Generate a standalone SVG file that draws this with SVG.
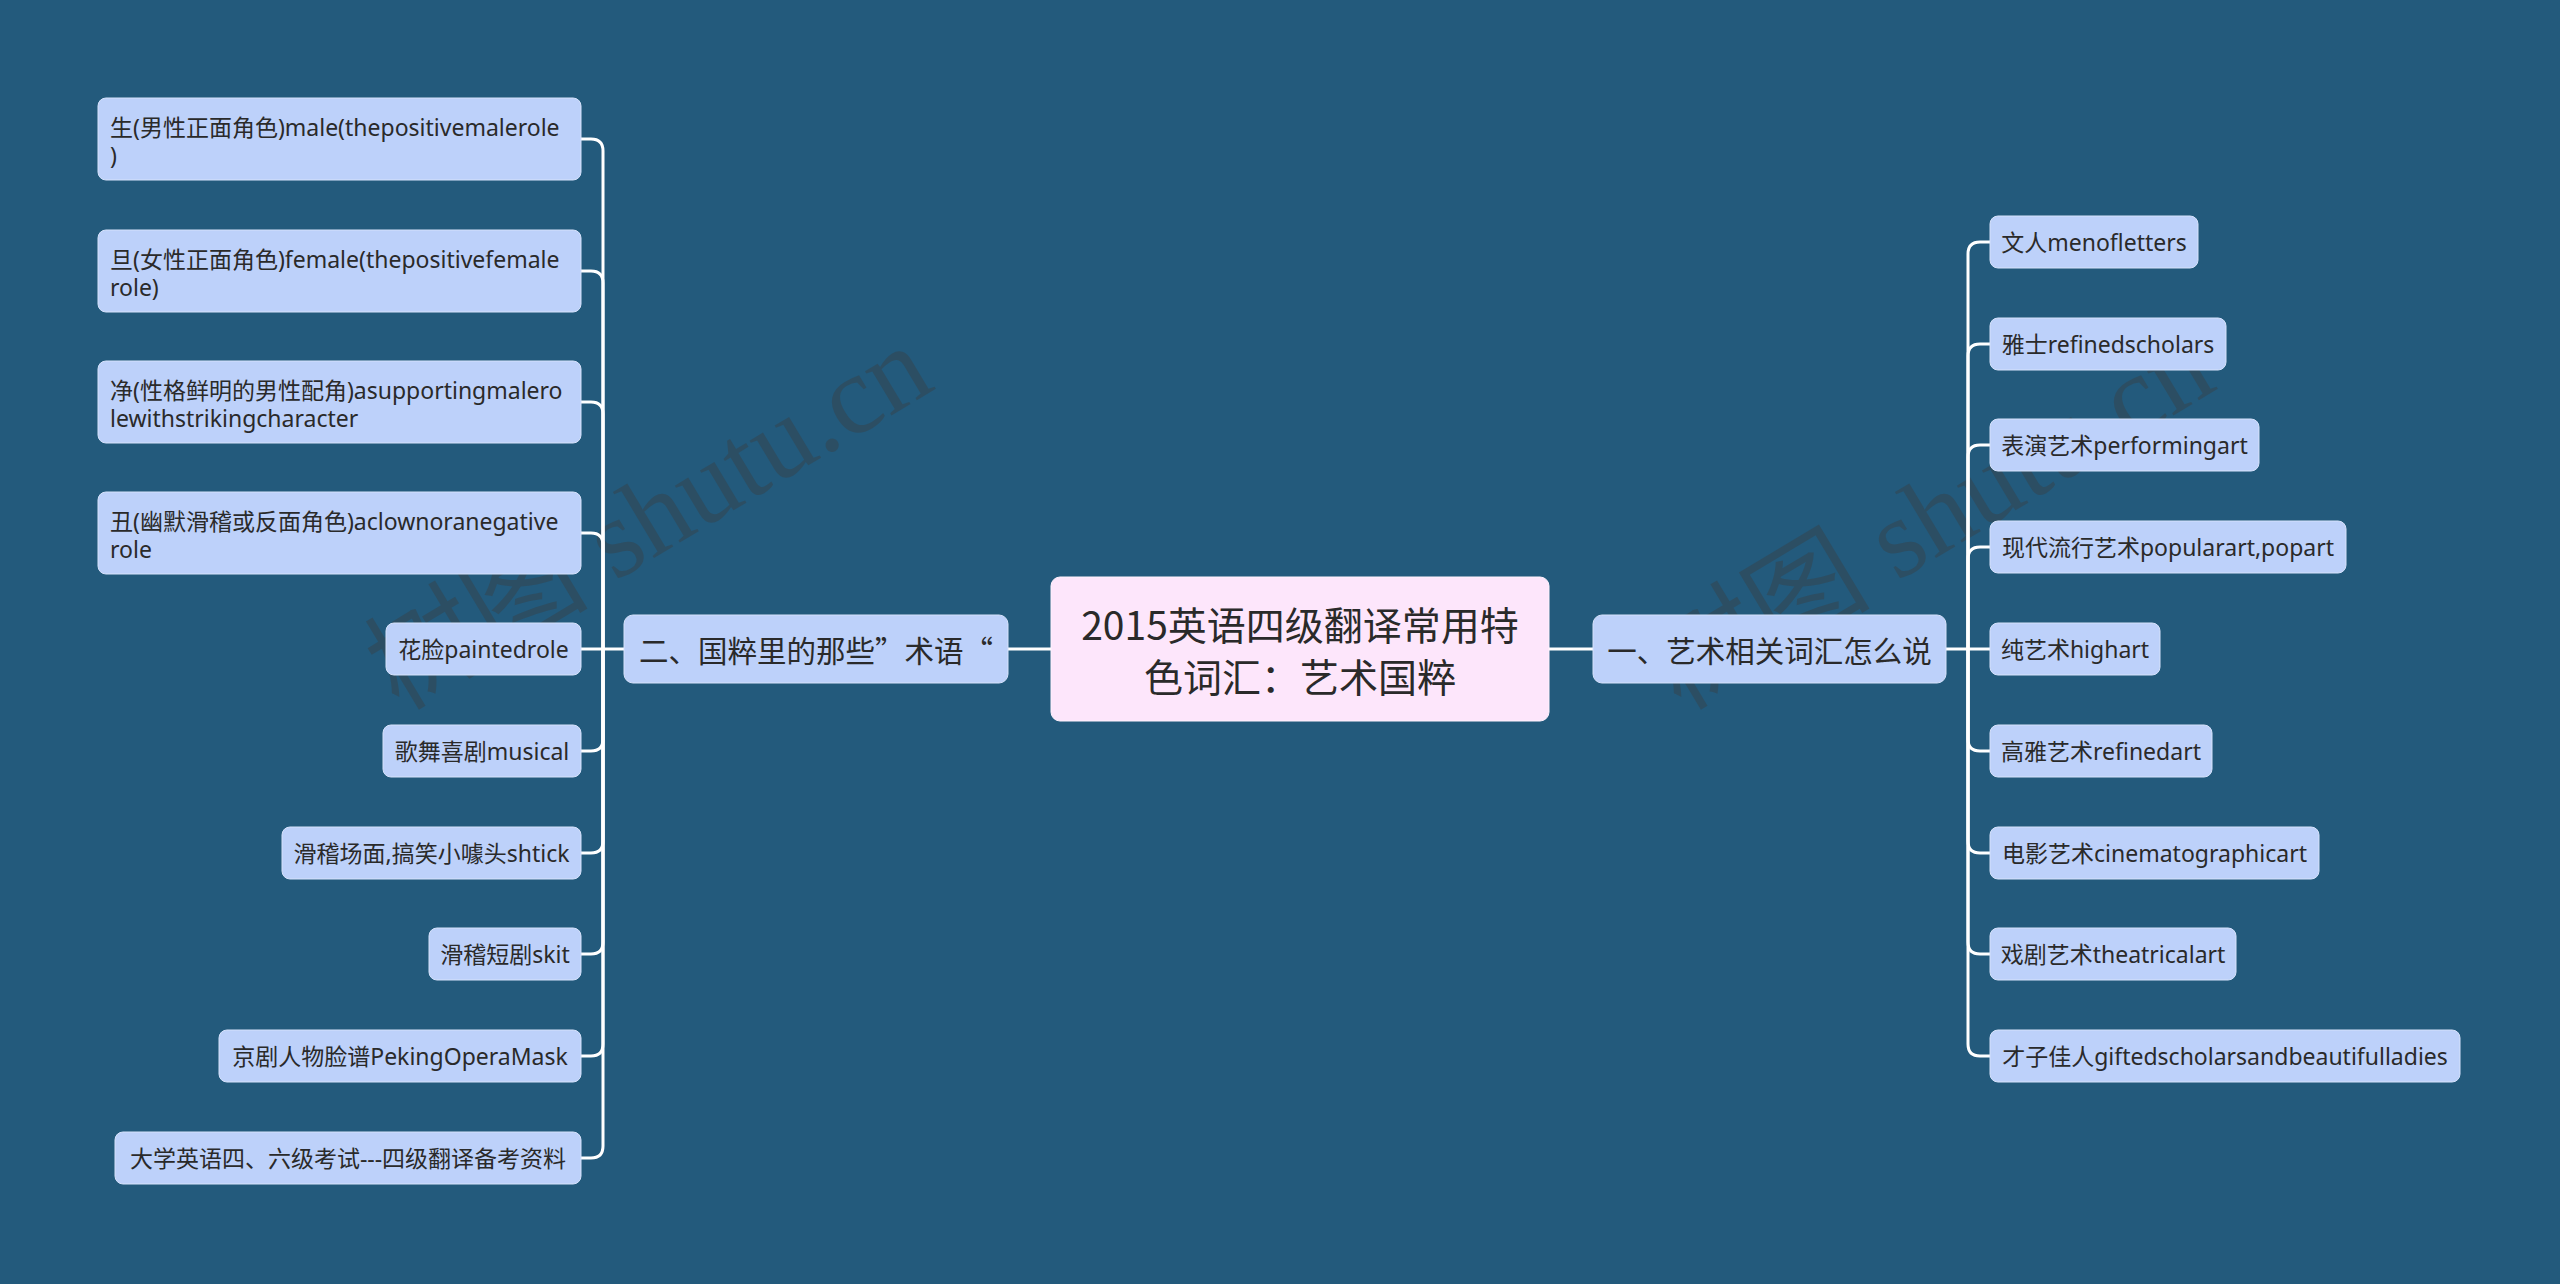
<svg xmlns="http://www.w3.org/2000/svg" width="2560" height="1284" viewBox="0 0 2560 1284">
<style>
.bg{fill:#235a7c}
.leaf{fill:#bdd1fa;stroke:#d6e2fb;stroke-width:1}
.main{fill:#bdd1fa;stroke:#d6e2fb;stroke-width:1}
.root{fill:#fde6fb;stroke:#fff2fd;stroke-width:1}
.t{font-family:"Noto Sans","Noto Sans CJK SC",sans-serif;font-size:23px;fill:#2a2a2a;dominant-baseline:central}
.tm{font-family:"Noto Sans CJK SC","Noto Sans",sans-serif;font-size:29.5px;fill:#2a2a2a;dominant-baseline:central;text-anchor:middle}
.tr{font-family:"Noto Sans CJK SC","Noto Sans",sans-serif;font-size:39px;fill:#2a2a2a;dominant-baseline:central;text-anchor:middle}
.c{text-anchor:middle}
.s{text-anchor:start}
.ln{fill:none;stroke:#ffffff;stroke-width:3}
.wm{font-family:"Liberation Serif","Noto Sans CJK SC",serif;font-size:112px;fill:#3c3c3c;opacity:0.38}
</style>
<rect class="bg" x="0" y="0" width="2560" height="1284"/>

<g id="watermarks">
<text class="wm" x="649" y="555" text-anchor="middle" transform="rotate(-31 649 518)">树图 shutu.cn</text>
<text class="wm" x="1931" y="555" text-anchor="middle" transform="rotate(-31 1931 518)">树图 shutu.cn</text>
</g>

<g id="connectors" class="ln">
<path d="M1008 649H1051"/>
<path d="M1549 649H1593"/>
<path d="M624 649H603"/>
<path d="M603 649V151Q603 139 591 139H581"/>
<path d="M603 649V283Q603 271 591 271H581"/>
<path d="M603 649V414Q603 402 591 402H581"/>
<path d="M603 649V545Q603 533 591 533H581"/>
<path d="M603 649H581"/>
<path d="M603 649V739Q603 751 591 751H581"/>
<path d="M603 649V841Q603 853 591 853H581"/>
<path d="M603 649V942Q603 954 591 954H581"/>
<path d="M603 649V1044Q603 1056 591 1056H581"/>
<path d="M603 649V1146Q603 1158 591 1158H581"/>
<path d="M1946 649H1968"/>
<path d="M1968 649V254Q1968 242 1980 242H1990"/>
<path d="M1968 649V356Q1968 344 1980 344H1990"/>
<path d="M1968 649V457Q1968 445 1980 445H1990"/>
<path d="M1968 649V559Q1968 547 1980 547H1990"/>
<path d="M1968 649H1990"/>
<path d="M1968 649V739Q1968 751 1980 751H1990"/>
<path d="M1968 649V841Q1968 853 1980 853H1990"/>
<path d="M1968 649V942Q1968 954 1980 954H1990"/>
<path d="M1968 649V1044Q1968 1056 1980 1056H1990"/>
</g>

<g id="root">
<rect class="root" x="1051" y="577" width="498" height="144" rx="9"/>
<text class="tr" x="1300" y="623">2015英语四级翻译常用特</text>
<text class="tr" x="1300" y="675">色词汇：艺术国粹</text>
</g>

<g id="main-left">
<rect class="main" x="624" y="615" width="384" height="68" rx="9"/>
<text class="tm" x="816" y="649">二、国粹里的那些”术语“</text>
</g>
<g id="main-right">
<rect class="main" x="1593" y="615" width="353" height="68" rx="9"/>
<text class="tm" x="1769.5" y="649">一、艺术相关词汇怎么说</text>
</g>

<g id="l1"><rect class="leaf" x="98" y="98" width="483" height="82" rx="8"/>
<text class="t s" x="110" y="127">生(男性正面角色)male(thepositivemalerole</text>
<text class="t s" x="110" y="155">)</text></g>
<g id="l2"><rect class="leaf" x="98" y="230" width="483" height="82" rx="8"/>
<text class="t s" x="110" y="259">旦(女性正面角色)female(thepositivefemale</text>
<text class="t s" x="110" y="287">role)</text></g>
<g id="l3"><rect class="leaf" x="98" y="361" width="483" height="82" rx="8"/>
<text class="t s" x="110" y="390">净(性格鲜明的男性配角)asupportingmalero</text>
<text class="t s" x="110" y="418">lewithstrikingcharacter</text></g>
<g id="l4"><rect class="leaf" x="98" y="492" width="483" height="82" rx="8"/>
<text class="t s" x="110" y="521">丑(幽默滑稽或反面角色)aclownoranegative</text>
<text class="t s" x="110" y="549">role</text></g>
<g id="l5"><rect class="leaf" x="386" y="623" width="195" height="52" rx="8"/>
<text class="t c" x="483.5" y="649">花脸paintedrole</text></g>
<g id="l6"><rect class="leaf" x="383" y="725" width="198" height="52" rx="8"/>
<text class="t c" x="482" y="751">歌舞喜剧musical</text></g>
<g id="l7"><rect class="leaf" x="282" y="827" width="299" height="52" rx="8"/>
<text class="t c" x="431.5" y="853">滑稽场面,搞笑小噱头shtick</text></g>
<g id="l8"><rect class="leaf" x="429" y="928" width="152" height="52" rx="8"/>
<text class="t c" x="505" y="954">滑稽短剧skit</text></g>
<g id="l9"><rect class="leaf" x="219" y="1030" width="362" height="52" rx="8"/>
<text class="t c" x="400" y="1056">京剧人物脸谱PekingOperaMask</text></g>
<g id="l10"><rect class="leaf" x="115" y="1132" width="466" height="52" rx="8"/>
<text class="t c" x="348" y="1158">大学英语四、六级考试---四级翻译备考资料</text></g>

<g id="r1"><rect class="leaf" x="1990" y="216" width="208" height="52" rx="8"/>
<text class="t c" x="2094" y="242">文人menofletters</text></g>
<g id="r2"><rect class="leaf" x="1990" y="318" width="236" height="52" rx="8"/>
<text class="t c" x="2108" y="344">雅士refinedscholars</text></g>
<g id="r3"><rect class="leaf" x="1990" y="419" width="269" height="52" rx="8"/>
<text class="t c" x="2124.5" y="445">表演艺术performingart</text></g>
<g id="r4"><rect class="leaf" x="1990" y="521" width="356" height="52" rx="8"/>
<text class="t c" x="2168" y="547">现代流行艺术popularart,popart</text></g>
<g id="r5"><rect class="leaf" x="1990" y="623" width="170" height="52" rx="8"/>
<text class="t c" x="2075" y="649">纯艺术highart</text></g>
<g id="r6"><rect class="leaf" x="1990" y="725" width="222" height="52" rx="8"/>
<text class="t c" x="2101" y="751">高雅艺术refinedart</text></g>
<g id="r7"><rect class="leaf" x="1990" y="827" width="329" height="52" rx="8"/>
<text class="t c" x="2154.5" y="853">电影艺术cinematographicart</text></g>
<g id="r8"><rect class="leaf" x="1990" y="928" width="246" height="52" rx="8"/>
<text class="t c" x="2113" y="954">戏剧艺术theatricalart</text></g>
<g id="r9"><rect class="leaf" x="1990" y="1030" width="470" height="52" rx="8"/>
<text class="t c" x="2225" y="1056">才子佳人giftedscholarsandbeautifulladies</text></g>
</svg>
